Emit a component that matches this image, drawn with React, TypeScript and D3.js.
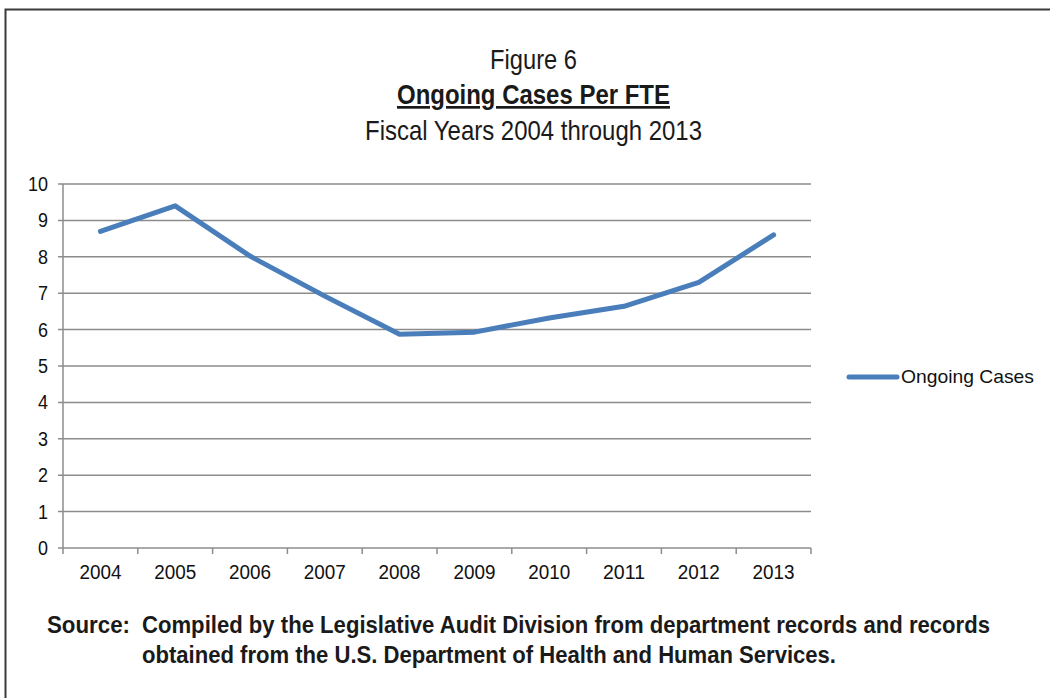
import React from "react";
import * as d3 from "d3";

const years = ["2004", "2005", "2006", "2007", "2008", "2009", "2010", "2011", "2012", "2013"];
const ongoingCases = [8.7, 9.4, 8.02, 6.92, 5.87, 5.93, 6.32, 6.64, 7.3, 8.6];
const yTicks = [0, 1, 2, 3, 4, 5, 6, 7, 8, 9, 10];

const font = "'Liberation Sans', Arial, sans-serif";

export default function App() {
  const W = 1050, H = 698;
  const left = 63, right = 811, top = 184, bottom = 548;
  const x = d3.scaleBand<string>().domain(years).range([left, right]);
  const y = d3.scaleLinear().domain([0, 10]).range([bottom, top]);
  const line = d3
    .line<number>()
    .x((_, i) => (x(years[i]) as number) + x.bandwidth() / 2)
    .y((d) => y(d));
  const boundaries = [...years.map((yr) => x(yr) as number), right];
  const adj = "spacingAndGlyphs";

  return (
    <svg width={W} height={H} style={{ position: "absolute", left: 0, top: 0, background: "#fff" }}>
      <rect x={5.5} y={9.5} width={W + 10} height={H + 10} fill="#fff" stroke="#3a3a3a" strokeWidth={2} />
      <text x={490} y={69} fontFamily={font} fontSize={28} fill="#1a1a1a" textLength={87} lengthAdjust={adj}>Figure 6</text>
      <text x={397} y={104} fontFamily={font} fontSize={27} fontWeight="bold" fill="#1a1a1a" textDecoration="underline" textLength={273} lengthAdjust={adj}>Ongoing Cases Per FTE</text>
      <text x={365} y={140} fontFamily={font} fontSize={28} fill="#1a1a1a" textLength={337} lengthAdjust={adj}>Fiscal Years 2004 through 2013</text>

      {yTicks.map((t) => (
        <g key={t}>
          <line x1={left - 5} x2={right} y1={y(t)} y2={y(t)} stroke="#8c8c8c" strokeWidth={1.5} />
          <text x={48} y={y(t) + 7} textAnchor="end" fontFamily={font} fontSize={20} fill="#111" textLength={t === 10 ? 20 : 10} lengthAdjust={adj}>{t}</text>
        </g>
      ))}
      <line x1={left} x2={left} y1={top} y2={bottom} stroke="#8c8c8c" strokeWidth={1.5} />
      {boundaries.map((b, i) => (
        <line key={i} x1={b} x2={b} y1={bottom} y2={bottom + 6} stroke="#8c8c8c" strokeWidth={1.5} />
      ))}
      {years.map((yr) => (
        <text key={yr} x={(x(yr) as number) + x.bandwidth() / 2 - 21} y={579} fontFamily={font} fontSize={20} fill="#111" textLength={42} lengthAdjust={adj}>{yr}</text>
      ))}

      <path d={line(ongoingCases) || ""} fill="none" stroke="#4a7ebb" strokeWidth={5} strokeLinejoin="round" strokeLinecap="round" />

      <line x1={849} x2={897} y1={377} y2={377} stroke="#4a7ebb" strokeWidth={5} strokeLinecap="round" />
      <text x={901} y={383} fontFamily={font} fontSize={19} fill="#111" textLength={133} lengthAdjust={adj}>Ongoing Cases</text>

      <text x={47} y={633} fontFamily={font} fontSize={24} fontWeight="bold" fill="#1a1a1a" textLength={83} lengthAdjust={adj}>Source:</text>
      <text x={142} y={633} fontFamily={font} fontSize={24} fontWeight="bold" fill="#1a1a1a" textLength={848} lengthAdjust={adj}>Compiled by the Legislative Audit Division from department records and records</text>
      <text x={142} y={663} fontFamily={font} fontSize={24} fontWeight="bold" fill="#1a1a1a" textLength={694} lengthAdjust={adj}>obtained from the U.S. Department of Health and Human Services.</text>
    </svg>
  );
}
